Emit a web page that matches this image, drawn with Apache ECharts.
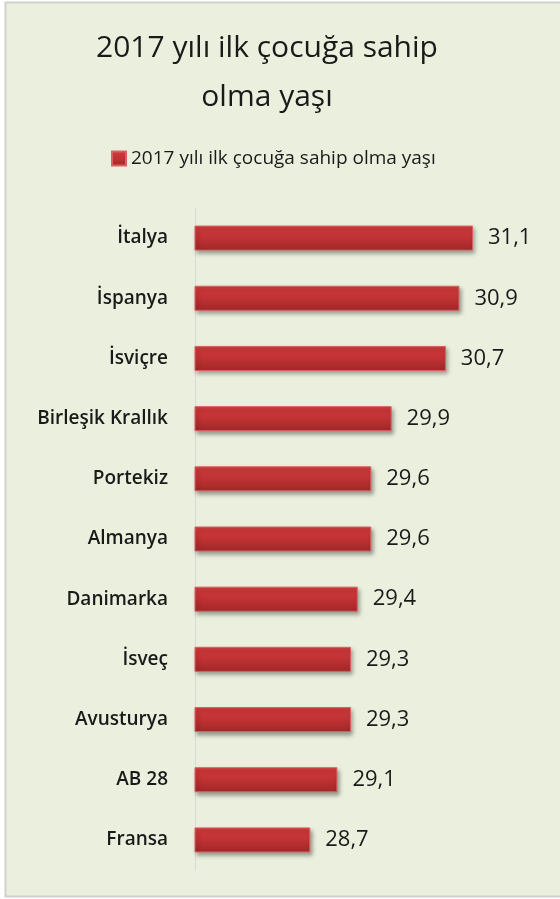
<!DOCTYPE html>
<html><head><meta charset="utf-8">
<script src="https://cdn.jsdelivr.net/npm/echarts@6/dist/echarts.min.js"></script>
<style>html,body{margin:0;padding:0;background:#fff}#c{width:560px;height:899px}</style>
</head><body><div id="c"></div>
<script>
const categories = ["İtalya","İspanya","İsviçre","Birleşik Krallık","Portekiz","Almanya","Danimarka","İsveç","Avusturya","AB 28","Fransa"];
const values = [31.1,30.9,30.7,29.9,29.6,29.6,29.4,29.3,29.3,29.1,28.7];
const seriesName = "2017 yılı ilk çocuğa sahip olma yaşı";
const titleText = "2017 yılı ilk çocuğa sahip\nolma yaşı";

const chart = echarts.init(document.getElementById('c'), null, {renderer:'canvas'});
const font = '"Open Sans", "Noto Sans", sans-serif';
chart.setOption({
  backgroundColor: 'transparent',
  graphic: [{type:'rect', shape:{x:5.5,y:2.5,width:600,height:894}, style:{fill:'#EBF0DE', stroke:'#D0D0D0', lineWidth:2}, z:-10}],
  title: {text: titleText, left: 262, top: 19, textAlign:'center',
    textStyle:{fontFamily:font, fontSize:30, fontWeight:'normal', color:'#1a1a1a', lineHeight:49}},
  legend: {data:[seriesName], top: 144, itemWidth:14, itemHeight:14, itemGap:6,
    textStyle:{fontFamily:font, fontSize:19, color:'#1a1a1a'}, icon:'rect', left:106},
  grid: {left:195, right:26, top:208, bottom:29},
  xAxis: {type:'value', min:27, max:32, show:false},
  yAxis: {type:'category', data:categories, inverse:true,
    axisLine:{show:true, lineStyle:{color:'#D9D9D9', width:1}},
    axisTick:{show:false},
    axisLabel:{fontFamily:font, fontSize:19, fontWeight:600, color:'#1a1a1a', margin:27}},
  series: [{name:seriesName, type:'bar', data:values, barWidth:25,
    itemStyle:{
      color: new echarts.graphic.LinearGradient(0,0,0,1,[{offset:0,color:'#D43B3D'},{offset:0.5,color:'#C03234'},{offset:1,color:'#A02728'}]),
      borderColor:'#D96060', borderWidth:1,
      shadowColor:'rgba(0,0,0,0.35)', shadowBlur:4, shadowOffsetX:2, shadowOffsetY:3},
    label:{show:true, position:'right', distance:15, fontFamily:font, fontSize:22, color:'#1a1a1a',
      formatter: p => String(p.value).replace('.', ',')}
  }]
});
</script></body></html>
